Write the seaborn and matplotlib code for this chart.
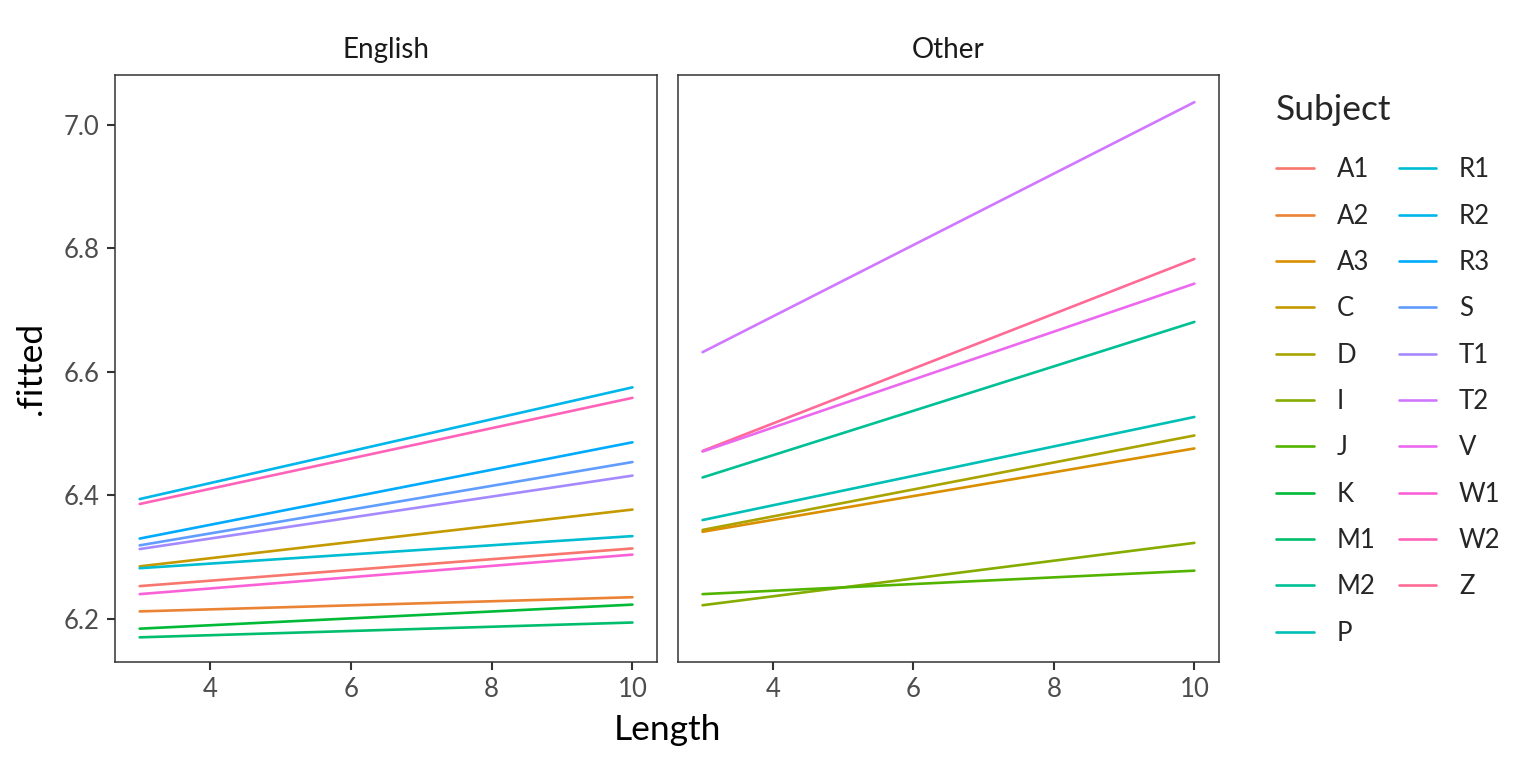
import numpy as np
import pandas as pd
import matplotlib
matplotlib.use('Agg')
import matplotlib.pyplot as plt
import seaborn as sns
from matplotlib.lines import Line2D

# subject levels (legend order)
subjects = ['A1', 'A2', 'A3', 'C', 'D', 'I', 'J', 'K', 'M1', 'M2', 'P',
            'R1', 'R2', 'R3', 'S', 'T1', 'T2', 'V', 'W1', 'W2', 'Z']

# fitted values at Length = 3 and Length = 10
english_subj = ['R2', 'W2', 'R3', 'S', 'T1', 'C', 'R1', 'A1', 'W1', 'A2', 'K', 'M1']
english_lo = [6.394, 6.386, 6.330, 6.319, 6.313, 6.285, 6.282, 6.253, 6.240, 6.212, 6.184, 6.170]
english_hi = [6.575, 6.558, 6.486, 6.454, 6.432, 6.377, 6.334, 6.314, 6.304, 6.235, 6.223, 6.194]

other_subj = ['T2', 'Z', 'V', 'M2', 'P', 'D', 'A3', 'I', 'J']
other_lo = [6.632, 6.472, 6.471, 6.429, 6.360, 6.344, 6.341, 6.222, 6.240]
other_hi = [7.037, 6.783, 6.743, 6.681, 6.527, 6.497, 6.476, 6.323, 6.278]

lengths = [3, 10]


def hcl_hex(h, c=100, l=65):
    # polar Luv -> sRGB, like R's hcl()
    xn, yn, zn = 95.047, 100.0, 108.883
    un = 4 * xn / (xn + 15 * yn + 3 * zn)
    vn = 9 * yn / (xn + 15 * yn + 3 * zn)
    u = c * np.cos(np.radians(h))
    v = c * np.sin(np.radians(h))
    Y = yn * ((l + 16) / 116) ** 3
    up = u / (13 * l) + un
    vp = v / (13 * l) + vn
    X = 9.0 * Y * up / (4 * vp)
    Z = -X / 3 - 5 * Y + 3 * Y / vp
    M = np.array([[3.240479, -1.537150, -0.498535],
                  [-0.969256, 1.875992, 0.041556],
                  [0.055648, -0.204043, 1.057311]])
    rgb = M @ (np.array([X, Y, Z]) / 100)
    out = []
    for ch in rgb:
        ch = 12.92 * ch if ch <= 0.0031308 else 1.055 * ch ** (1 / 2.4) - 0.055
        out.append(min(max(ch, 0), 1))
    return tuple(out)


hues = np.linspace(15, 375, len(subjects) + 1)[:-1]
palette = {s: hcl_hex(h) for s, h in zip(subjects, hues)}

rows = []
for lang, subj, lo, hi in [('English', english_subj, english_lo, english_hi),
                           ('Other', other_subj, other_lo, other_hi)]:
    for s, a, b in zip(subj, lo, hi):
        rows.append({'Language': lang, 'Subject': s, 'Length': lengths[0], '.fitted': a})
        rows.append({'Language': lang, 'Subject': s, 'Length': lengths[1], '.fitted': b})
df = pd.DataFrame(rows)

sns.set_style('white')
plt.rcParams['font.family'] = ['Lato', 'DejaVu Sans']

fig = plt.figure(figsize=(15.36, 7.68), dpi=100)
ax1 = fig.add_axes([0.0749, 0.138, 0.3529, 0.7643])
ax2 = fig.add_axes([0.4414, 0.138, 0.3522, 0.7643])

for ax, lang in [(ax1, 'English'), (ax2, 'Other')]:
    sns.lineplot(data=df[df['Language'] == lang], x='Length', y='.fitted',
                 hue='Subject', palette=palette, linewidth=1.9, legend=False, ax=ax)
    ax.set_xlim(2.65, 10.35)
    ax.set_ylim(6.13, 7.081)
    ax.set_xticks([4, 6, 8, 10])
    ax.set_yticks([6.2, 6.4, 6.6, 6.8, 7.0])
    ax.set_xlabel('')
    ax.set_ylabel('')
    ax.set_title(lang, fontsize=20, color='#1A1A1A', pad=12)
    for sp in ax.spines.values():
        sp.set_visible(True)
        sp.set_color('#333333')
        sp.set_linewidth(1.1)
    ax.tick_params(axis='both', which='both', length=6, width=1.5, color='#333333',
                   labelsize=18.5, labelcolor='#4D4D4D', bottom=True, left=True, pad=5)
    ax.grid(False)

ax2.tick_params(axis='y', left=False, labelleft=False)
ax1.yaxis.set_major_formatter(matplotlib.ticker.FormatStrFormatter('%.1f'))

fig.text(0.4343, 0.05, 'Length', ha='center', va='center', fontsize=25.5, color='black')
fig.text(0.02, 0.52, '.fitted', ha='center', va='center', rotation=90, fontsize=25.5, color='black')

handles = [Line2D([0], [0], color=palette[s], lw=1.9) for s in subjects]
leg = fig.legend(handles, subjects, loc='upper left', bbox_to_anchor=(0.806, 0.927),
                 ncol=2, frameon=False, title='Subject', fontsize=18.5,
                 title_fontsize=25.5, alignment='left', handlelength=1.45,
                 handletextpad=0.9, labelspacing=0.83, columnspacing=0.9,
                 borderpad=0.99)
# a bit more room between title and keys
leg._legend_box.sep += 7

fig.savefig('out.png', dpi=100)
